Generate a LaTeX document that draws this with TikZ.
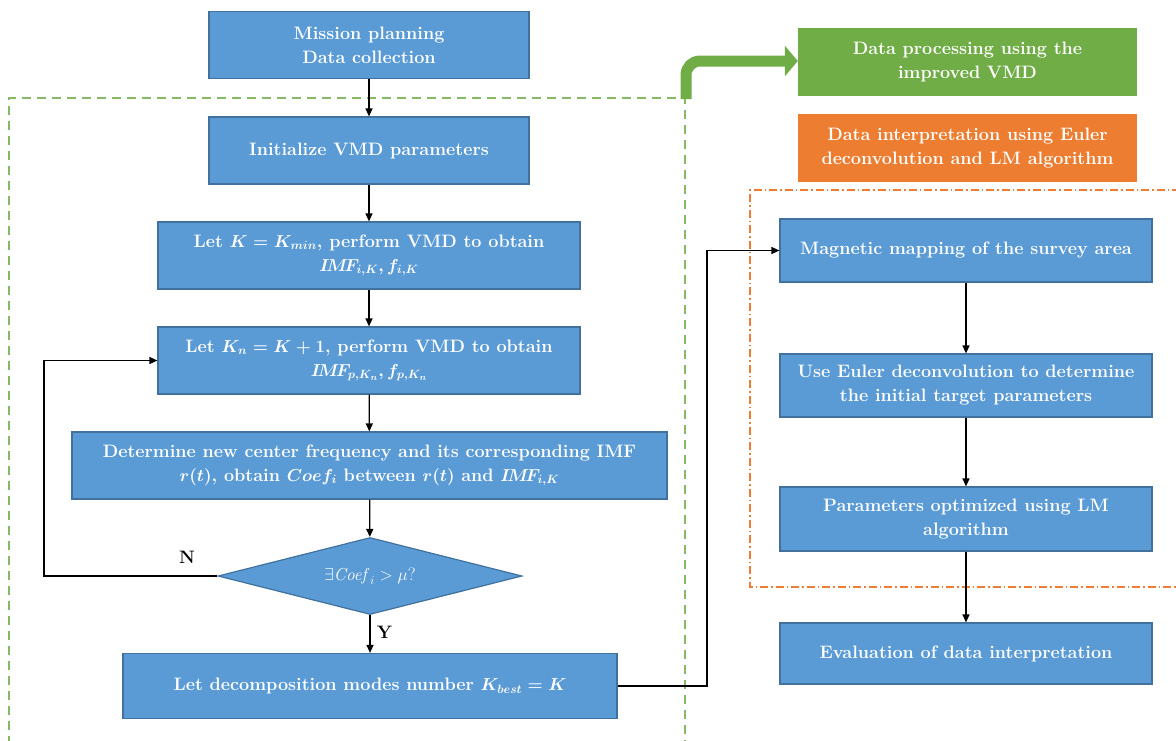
\documentclass[tikz,border=0pt]{standalone}
\usetikzlibrary{arrows.meta,shapes.geometric}
\definecolor{bfill}{HTML}{5B9BD5}
\definecolor{bdraw}{HTML}{41719C}
\definecolor{gfill}{HTML}{70AD47}
\definecolor{ofill}{HTML}{ED7D31}
\begin{document}
\begin{tikzpicture}[x=1pt,y=-1pt,
  box/.style={draw=bdraw,line width=1.2pt,fill=bfill,text=white,align=center,
    font=\fontsize{18}{24}\selectfont\bfseries\boldmath,inner sep=0pt},
  gbox/.style={fill=gfill,text=white,align=center,inner sep=0pt,
    font=\fontsize{18}{24}\selectfont\bfseries},
  obox/.style={fill=ofill,text=white,align=center,inner sep=0pt,
    font=\fontsize{18}{24}\selectfont\bfseries},
  conn/.style={line width=1.3pt,-{Triangle[length=8pt,width=7pt]}},
  lbl/.style={font=\fontsize{18}{20}\selectfont\bfseries}]
\useasboundingbox (0,0) rectangle (1176,740);
% dashed regions
\draw[gfill!85!white,line width=1.3pt,dash pattern=on 9pt off 6pt] (9,745) -- (9,98) -- (685,98) -- (685,745);
\draw[ofill,line width=1.3pt,dash pattern=on 8pt off 3pt on 1.5pt off 3pt] (1180,190) -- (750,190) -- (750,587) -- (1180,587);
% left column
\node[box,minimum width=320pt,minimum height=67pt] (mis) at (369,45) {Mission planning\\Data collection};
\node[box,minimum width=320pt,minimum height=67pt] (ini) at (369,150.5) {Initialize VMD parameters};
\node[box,minimum width=422pt,minimum height=67pt] (kmin) at (369,255.5) {Let $K=K_{min}$, perform VMD to obtain\\$I\!M\!F_{i,K}, f_{i,K}$};
\node[box,minimum width=422pt,minimum height=67pt] (kn) at (369,360.5) {Let $K_n=K+1$, perform VMD to obtain\\$I\!M\!F_{p,K_n}, f_{p,K_n}$};
\node[box,minimum width=595pt,minimum height=67pt] (det) at (369.5,465.5) {Determine new center frequency and its corresponding IMF\\$r(t)$, obtain $Coef_i$ between $r(t)$ and $I\!M\!F_{i,K}$};
\node[draw=bdraw,line width=1.2pt,fill=bfill,text=white,diamond,aspect=3.95,inner sep=0pt,
  minimum width=304pt,minimum height=77pt,font=\fontsize{18}{22}\selectfont] (dia) at (370,576) {$\exists \mathit{Coef}_i > \mu$?};
\node[box,minimum width=494pt,minimum height=65pt] (best) at (370,686) {Let decomposition modes number $K_{best}=K$};
% right column
\node[gbox,minimum width=339pt,minimum height=68pt] (gp) at (967.5,62) {Data processing using the\\improved VMD};
\node[obox,minimum width=339pt,minimum height=68pt] (op) at (967.5,148) {Data interpretation using Euler\\deconvolution and LM algorithm};
\node[box,minimum width=372pt,minimum height=63pt] (mag) at (966,250.5) {Magnetic mapping of the survey area};
\node[box,minimum width=372pt,minimum height=63pt] (eul) at (966,385.5) {Use Euler deconvolution to determine\\the initial target parameters};
\node[box,minimum width=372pt,minimum height=64pt] (par) at (966,519) {Parameters optimized using LM\\algorithm};
\node[box,minimum width=372pt,minimum height=61pt] (eva) at (966,653.5) {Evaluation of data interpretation};
% connectors
\draw[conn] (mis) -- (ini);
\draw[conn] (ini) -- (kmin);
\draw[conn] (kmin) -- (kn);
\draw[conn] (kn) -- (det);
\draw[conn] (det) -- (dia);
\draw[conn] (dia) -- node[lbl,right=3pt,pos=0.45] {Y} (best);
\coordinate (lp) at (44,576);
\draw[conn] (dia.west) -- (lp) -- (lp |- kn.west) -- (kn.west);
\node[lbl] (nlab) at (187,557) {N};
\coordinate (rp) at (707,686);
\draw[conn] (best.east) -- (rp) -- (rp |- mag.west) -- (mag.west);
\draw[conn] (mag) -- (eul);
\draw[conn] (eul) -- (par);
\draw[conn] (par) -- (eva);
% green thick arrow
\coordinate (gs) at (686,99);
\draw[gfill,line width=11pt,rounded corners=14pt,-{Triangle[length=13pt,width=30pt]}] (gs) -- (686,61) -- (gp.west |- 0,61);
\end{tikzpicture}
\end{document}
